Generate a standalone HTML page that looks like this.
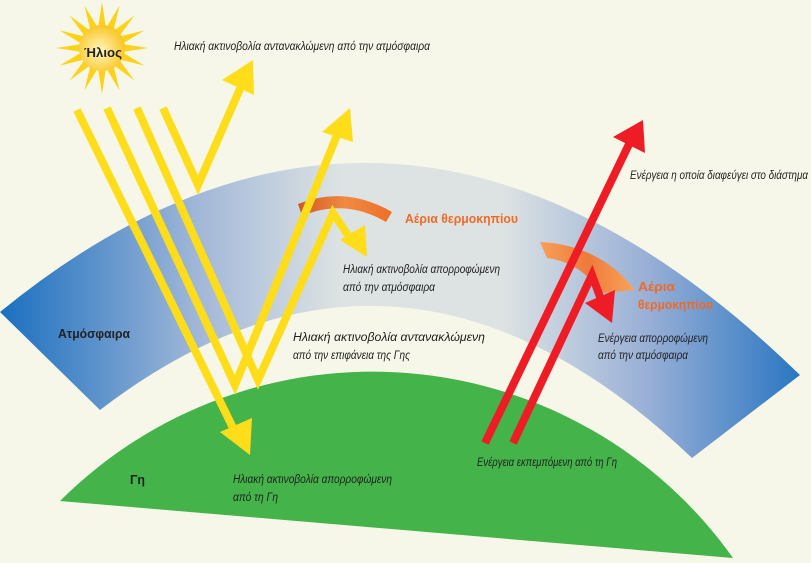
<!DOCTYPE html>
<html><head><meta charset="utf-8"><style>
html,body{margin:0;padding:0;background:#f6f7e9;}
svg{display:block}
.t{font-family:"Liberation Sans Narrow","Liberation Sans",sans-serif;font-style:italic;font-size:12px;fill:#222;}
.b{font-family:"Liberation Sans Narrow","Liberation Sans",sans-serif;font-weight:bold;font-size:13px;fill:#222;}
.o{font-family:"Liberation Sans Narrow","Liberation Sans",sans-serif;font-weight:bold;font-size:13px;fill:#f06a25;}
</style></head><body>
<svg width="811" height="563" viewBox="0 0 811 563" xmlns="http://www.w3.org/2000/svg">
<defs>
<linearGradient id="atm" x1="0" y1="0" x2="811" y2="0" gradientUnits="userSpaceOnUse">
<stop offset="0" stop-color="#1a6fc0"/><stop offset="0.25" stop-color="#a4b9d8"/>
<stop offset="0.42" stop-color="#dde3e3"/><stop offset="0.62" stop-color="#dde3e3"/>
<stop offset="0.8" stop-color="#98afd6"/><stop offset="1" stop-color="#2272c0"/>
</linearGradient>
<radialGradient id="sun" cx="0.45" cy="0.55" r="0.6">
<stop offset="0" stop-color="#fff6c0"/><stop offset="1" stop-color="#f9c21a"/>
</radialGradient>
<linearGradient id="or1" x1="0" x2="1"><stop offset="0" stop-color="#d05a22"/><stop offset="0.5" stop-color="#f08a44"/><stop offset="1" stop-color="#ef6e26"/></linearGradient>
<linearGradient id="or2" x1="0" x2="1"><stop offset="0" stop-color="#f7a05a"/><stop offset="0.5" stop-color="#ee7a3a"/><stop offset="1" stop-color="#f9a45a"/></linearGradient>
</defs>
<rect width="811" height="563" fill="#f6f7e9"/>
<!-- atmosphere -->
<path d="M0,312 Q400,-15 800,375 L692,458 Q400,180 100,410 Z" fill="url(#atm)"/>
<!-- earth -->
<path d="M60,501 A442,442 0 0 1 733,558 Z" fill="#44b34a"/>
<!-- sun -->
<g transform="translate(102,48)">
<g fill="#ffd21a">
<polygon points="0,-46 4,-20 -4,-20"/><polygon points="0,46 4,20 -4,20"/>
<polygon points="-46,0 -20,4 -20,-4"/><polygon points="46,0 20,4 20,-4"/>
<g transform="rotate(22.5)"><polygon points="0,-46 4,-20 -4,-20"/><polygon points="0,46 4,20 -4,20"/><polygon points="-46,0 -20,4 -20,-4"/><polygon points="46,0 20,4 20,-4"/></g>
<g transform="rotate(45)"><polygon points="0,-46 4,-20 -4,-20"/><polygon points="0,46 4,20 -4,20"/><polygon points="-46,0 -20,4 -20,-4"/><polygon points="46,0 20,4 20,-4"/></g>
<g transform="rotate(67.5)"><polygon points="0,-46 4,-20 -4,-20"/><polygon points="0,46 4,20 -4,20"/><polygon points="-46,0 -20,4 -20,-4"/><polygon points="46,0 20,4 20,-4"/></g>
</g>
<circle r="23" fill="url(#sun)"/>
</g>
<text class="b" x="84" y="57" textLength="38" lengthAdjust="spacingAndGlyphs">Ήλιος</text>
<!-- orange arc 1 -->
<path d="M298,204 Q345,185 392,212 L386,222 Q345,198 302,216 Z" fill="url(#or1)"/>
<!-- yellow arrows -->
<g fill="none" stroke="#ffdd1a" stroke-width="8" stroke-linejoin="miter">
<polyline points="77,110 238,438"/>
<polyline points="107,108 235,385 340,128"/>
<polyline points="137,108 258,380 333,213 350,238"/>
<polyline points="163,108 198,185 243,82"/>
</g>
<g fill="#ffdd1a">
<polygon points="250,455 220,432 252,418"/>
<polygon points="350,108 322,132 353,142"/>
<polygon points="367,257 340,240 365,225"/>
<polygon points="253,60 222,80 254,95"/>
</g>
<!-- orange arc 2 -->
<path d="M540,242 Q600,245 635,290 L602,293 Q580,262 547,258 Z" fill="url(#or2)"/>
<!-- red arrows -->
<g fill="none" stroke="#ee1c25" stroke-width="8">
<polyline points="485,443 632,138"/>
<polyline points="513,443 592,275 603,305"/>
</g>
<g fill="#ee1c25">
<polygon points="643,120 613,137 645,153"/>
<polygon points="612,323 585,303 615,290"/>
</g>
<!-- labels -->
<text class="t" x="174" y="50" textLength="256" lengthAdjust="spacingAndGlyphs">Ηλιακή ακτινοβολία αντανακλώμενη από την ατμόσφαιρα</text>
<text class="o" x="405" y="223" textLength="113" lengthAdjust="spacingAndGlyphs">Αέρια θερμοκηπίου</text>
<text class="t" x="343" y="273" textLength="157" lengthAdjust="spacingAndGlyphs">Ηλιακή ακτινοβολία απορροφώμενη</text>
<text class="t" x="343" y="291" textLength="92" lengthAdjust="spacingAndGlyphs">από την ατμόσφαιρα</text>
<text class="t" x="293" y="341" textLength="192" lengthAdjust="spacingAndGlyphs">Ηλιακή ακτινοβολία αντανακλώμενη</text>
<text class="t" x="293" y="359" textLength="117" lengthAdjust="spacingAndGlyphs">από την επιφάνεια της Γης</text>
<text class="t" x="630" y="179" textLength="178" lengthAdjust="spacingAndGlyphs">Ενέργεια η οποία διαφεύγει στο διάστημα</text>
<text class="o" x="638" y="291" textLength="37" lengthAdjust="spacingAndGlyphs">Αέρια</text>
<text class="o" x="638" y="309" textLength="75" lengthAdjust="spacingAndGlyphs">θερμοκηπίου</text>
<text class="t" x="598" y="342" textLength="110" lengthAdjust="spacingAndGlyphs">Ενέργεια απορροφώμενη</text>
<text class="t" x="598" y="359" textLength="90" lengthAdjust="spacingAndGlyphs">από την ατμόσφαιρα</text>
<text class="t" x="477" y="466" textLength="140" lengthAdjust="spacingAndGlyphs">Ενέργεια εκπεμπόμενη από τη Γη</text>
<text class="t" x="233" y="483" textLength="159" lengthAdjust="spacingAndGlyphs">Ηλιακή ακτινοβολία απορροφώμενη</text>
<text class="t" x="233" y="501" textLength="45" lengthAdjust="spacingAndGlyphs">από τη Γη</text>
<text class="b" x="58" y="338" textLength="72" lengthAdjust="spacingAndGlyphs">Ατμόσφαιρα</text>
<text class="b" x="130" y="484" textLength="15" lengthAdjust="spacingAndGlyphs">Γη</text>
</svg>
</body></html>
